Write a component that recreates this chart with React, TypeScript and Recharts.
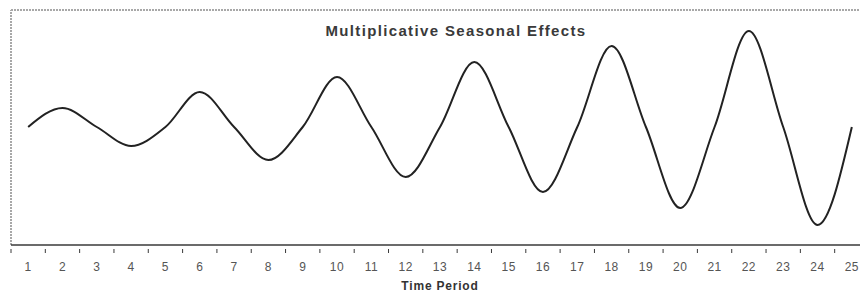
import React from "react";
import { LineChart, Line, XAxis, YAxis, ReferenceLine } from "recharts";

const periods = [1, 2, 3, 4, 5, 6, 7, 8, 9, 10, 11, 12, 13, 14, 15, 16, 17, 18, 19, 20, 21, 22, 23, 24, 25];
const seasonalValues = [100, 119, 100, 81, 100, 135, 100, 67, 100, 150, 100, 50, 100, 165, 100, 35, 100, 181, 100, 19, 100, 196, 100, 2, 100];
const boundaryTicks = [0.5, 1.5, 2.5, 3.5, 4.5, 5.5, 6.5, 7.5, 8.5, 9.5, 10.5, 11.5, 12.5, 13.5, 14.5, 15.5, 16.5, 17.5, 18.5, 19.5, 20.5, 21.5, 22.5, 23.5, 24.5, 25.5];
const xDomain = [0.5, 25.5];
const yDomain = [-18, 217];
const title = "Multiplicative Seasonal Effects";
const xTitle = "Time Period";

const data = periods.map((t, i) => ({ t, v: seasonalValues[i] }));
const allTicks = [...boundaryTicks, ...periods].sort((a, b) => a - b);

const FONT = "'Liberation Sans', Arial, sans-serif";

function AxisTick(props: any) {
  const { x, y, payload } = props;
  const v = payload.value;
  if (Number.isInteger(v)) {
    return (
      <text
        x={x}
        y={y + 22}
        textAnchor="middle"
        fill="#555"
        fontSize={12}
        fontFamily={FONT}
        letterSpacing={0.5}
      >
        {v}
      </text>
    );
  }
  return <line x1={x} x2={x} y1={y} y2={y + 4} stroke="#3a3a3a" strokeWidth={1} />;
}

export default function App() {
  return (
    <div
      style={{
        position: "absolute",
        left: 0,
        top: 0,
        width: 860,
        height: 293,
        overflow: "hidden",
        background: "#fff",
        fontFamily: FONT,
      }}
    >
      <LineChart
        width={890}
        height={293}
        data={data}
        margin={{ top: 10, left: 11, right: 21, bottom: 0 }}
      >
        <XAxis
          dataKey="t"
          type="number"
          domain={xDomain}
          ticks={allTicks}
          interval={0}
          tick={<AxisTick />}
          tickLine={false}
          tickSize={4}
          tickMargin={0}
          height={48}
          axisLine={{ stroke: "#3a3a3a", strokeWidth: 1.5 }}
          label={{
            value: xTitle,
            position: "insideBottom",
            offset: 3,
            fill: "#333",
            fontSize: 12,
            fontWeight: "bold",
            letterSpacing: 0.8,
            fontFamily: FONT,
          }}
          allowDataOverflow
        />
        <YAxis hide domain={yDomain} type="number" allowDataOverflow />
        <ReferenceLine y={yDomain[1]} stroke="#a8a8a8" strokeWidth={2} strokeDasharray="2 1" />
        <ReferenceLine x={xDomain[0]} stroke="#a8a8a8" strokeWidth={2} strokeDasharray="2 1" />
        <Line
          type="monotone"
          dataKey="v"
          stroke="#222"
          strokeWidth={2}
          dot={false}
          activeDot={false}
          isAnimationActive={false}
        />
      </LineChart>
      <div
        style={{
          position: "absolute",
          left: 0,
          width: 912,
          top: 23,
          textAlign: "center",
          fontSize: 15,
          lineHeight: "15px",
          fontWeight: "bold",
          color: "#3a3a3a",
          letterSpacing: 1.35,
          whiteSpace: "nowrap",
        }}
      >
        {title}
      </div>
    </div>
  );
}
